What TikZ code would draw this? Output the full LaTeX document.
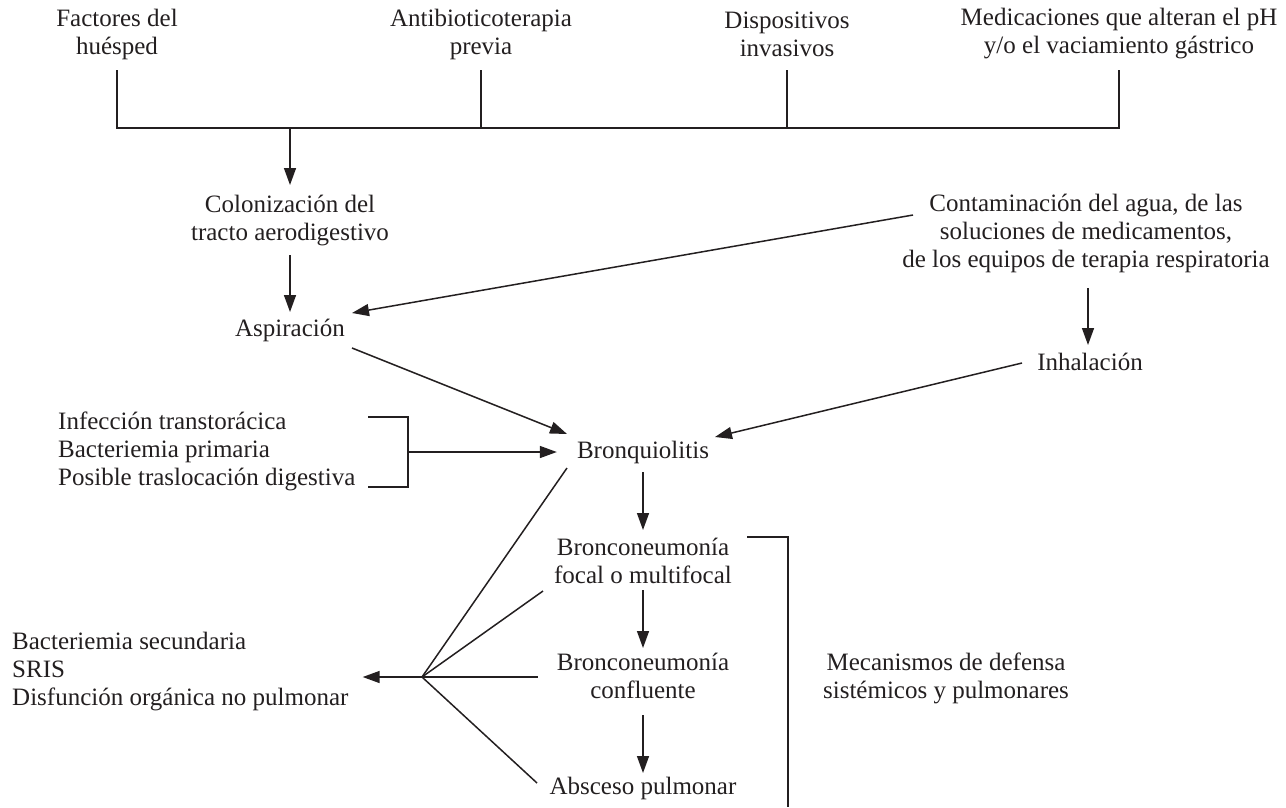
\documentclass[tikz,border=0pt]{standalone}
\usepackage{fontspec}
\setmainfont{Liberation Serif}
\usetikzlibrary{arrows.meta,calc}
\definecolor{ink}{HTML}{231F20}
\begin{document}
\begin{tikzpicture}[x=1pt,y=-1pt,
  lbl/.style={inner sep=0pt, align=center, text=ink, font=\fontsize{25}{28}\selectfont},
  lbll/.style={lbl, align=left},
  ln/.style={line width=1.5pt, draw=ink},
  arr/.style={ln, -{Triangle[length=17pt,width=12pt]}}]
\useasboundingbox (0,0) rectangle (1286,807);

% risk factors
\node[lbl] (f1) at (117,34) {Factores del\\huésped};
\node[lbl] (f2) at (481,34) {Antibioticoterapia\\previa};
\node[lbl] (f3) at (787,34) {Dispositivos\\invasivos};
\node[lbl] (f4) at (1119,34) {Medicaciones que alteran el pH\\y/o el vaciamiento gástrico};

% pathway nodes
\node[lbl] (col) at (290,220) {Colonización del\\tracto aerodigestivo};
\node[lbl] (asp) at (290,330) {Aspiración};
\node[lbl] (cont) at (1086,233) {Contaminación del agua, de las\\soluciones de medicamentos,\\de los equipos de terapia respiratoria};
\node[lbl] (inh) at (1090,362) {Inhalación};
\node[lbl] (bron) at (643,452) {Bronquiolitis};
\node[lbll, anchor=west] (orig) at (58,451) {Infección transtorácica\\Bacteriemia primaria\\Posible traslocación digestiva};
\node[lbl] (bnf) at (643,561) {Bronconeumonía\\focal o multifocal};
\node[lbl] (bnc) at (643,676) {Bronconeumonía\\confluente};
\node[lbl] (abs) at (643,788) {Absceso pulmonar};
\node[lbl] (mec) at (946,678) {Mecanismos de defensa\\sistémicos y pulmonares};
\node[lbll, anchor=west] (comp) at (12,672) {Bacteriemia secundaria\\SRIS\\Disfunción orgánica no pulmonar};

% collecting bar under the risk factors
\coordinate (bar) at (0,128);
\draw[ln] ($(f1)+(0,36)$) -- (f1 |- bar) -- (f4 |- bar) -- ($(f4)+(0,36)$);
\draw[ln] ($(f2)+(0,36)$) -- (f2 |- bar);
\draw[ln] ($(f3)+(0,36)$) -- (f3 |- bar);
\draw[arr] (col |- bar) -- ($(col)+(0,-35)$);

% aspiration / inhalation routes
\draw[arr] ($(col)+(0,35)$) -- ($(asp)+(0,-18)$);
\draw[arr] ($(cont)+(-173,-18)$) -- ($(asp)+(62,-17)$);
\draw[arr] ($(cont)+(2,55)$) -- ($(inh)+(-2,-17)$);
\draw[arr] ($(inh)+(-68,1)$) -- ($(bron)+(72,-15)$);
\draw[arr] ($(asp)+(62,18)$) -- ($(bron)+(-76,-18)$);

% other entry routes
\coordinate (bk) at (408,452);
\draw[ln] ($(bk)+(-40,-35)$) -| ($(bk)+(0,35)$) -- ++(-40,0);
\draw[arr] (bk) -- ($(bron.west)+(-20,0)$);

% progression
\draw[arr] ($(bron)+(0,20)$) -- ($(bnf)+(0,-31)$);
\draw[arr] ($(bnf)+(0,29)$) -- ($(bnc)+(0,-28)$);
\draw[arr] ($(bnc)+(0,39)$) -- ($(abs)+(0,-15)$);

% defence mechanisms bracket
\coordinate (bb) at (788,807);
\draw[ln] ($(bnf)+(104,-24)$) -| (bb);

% systemic complications fan
\coordinate (hub) at (422,677);
\draw[ln] (hub) -- ($(bron)+(-76,16)$);
\draw[ln] (hub) -- ($(bnf)+(-100,30)$);
\draw[ln] (hub) -- ($(bnc)+(-105,1)$);
\draw[ln] (hub) -- ($(abs)+(-106,-5)$);
\draw[arr] (hub) -- ([xshift=14pt]comp.east |- hub);
\end{tikzpicture}
\end{document}
